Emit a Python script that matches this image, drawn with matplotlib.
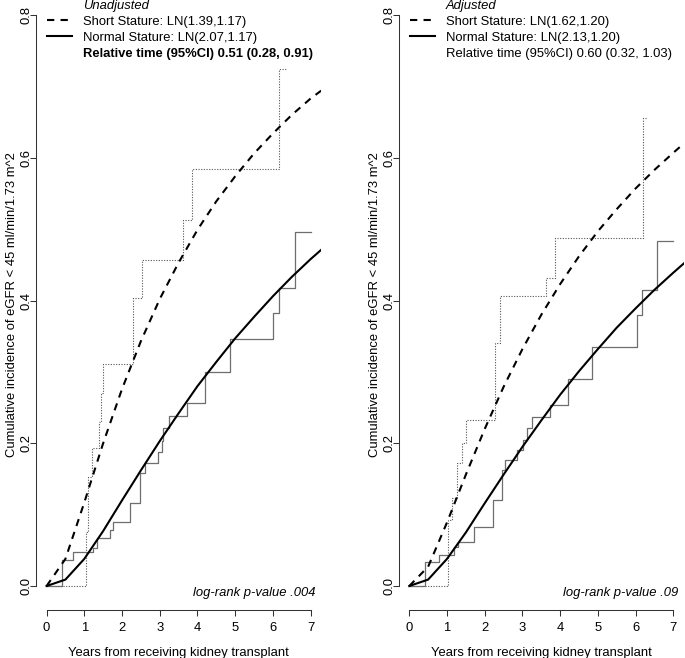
import matplotlib
matplotlib.use("Agg")
import matplotlib.pyplot as plt
from matplotlib.lines import Line2D

plt.rcParams['font.family'] = ['Liberation Sans', 'DejaVu Sans']
plt.rcParams['font.size'] = 9.4

# fitted lognormal curves
curve_t = [0, 0.5, 1, 1.5, 2, 2.5, 3, 3.5, 4, 4.5, 5, 5.5, 6, 6.5, 7, 7.28]
unadj_short_fit = [0, 0.038, 0.117, 0.200, 0.276, 0.343, 0.402, 0.453, 0.499,
                   0.539, 0.574, 0.606, 0.634, 0.660, 0.683, 0.694]
unadj_normal_fit = [0, 0.009, 0.038, 0.077, 0.120, 0.162, 0.203, 0.242, 0.280,
                    0.314, 0.347, 0.377, 0.406, 0.433, 0.458, 0.471]
adj_short_fit = [0, 0.027, 0.089, 0.156, 0.220, 0.279, 0.332, 0.380, 0.423,
                 0.462, 0.497, 0.528, 0.557, 0.583, 0.607, 0.620]
adj_normal_fit = [0, 0.009, 0.038, 0.075, 0.116, 0.156, 0.195, 0.232, 0.268,
                  0.301, 0.332, 0.362, 0.389, 0.415, 0.439, 0.452]

# observed cumulative incidence (step functions)
unadj_short_t = [0, 1.04, 1.10, 1.20, 1.40, 1.44, 1.50, 2.30, 2.52, 3.62, 3.85, 6.17, 6.36]
unadj_short_ci = [0, 0.076, 0.153, 0.193, 0.230, 0.270, 0.311, 0.403, 0.457, 0.513, 0.584, 0.724, 0.724]
unadj_normal_t = [0, 0.40, 0.71, 1.22, 1.33, 1.68, 1.75, 2.21, 2.47, 2.61, 2.96, 3.05, 3.09,
                  3.25, 3.71, 4.20, 4.87, 6.01, 6.17, 6.58, 7.01]
unadj_normal_ci = [0, 0.036, 0.047, 0.053, 0.067, 0.078, 0.089, 0.116, 0.158, 0.173, 0.188,
                   0.203, 0.221, 0.238, 0.257, 0.300, 0.346, 0.382, 0.418, 0.496, 0.496]

adj_short_t = [0, 1.03, 1.12, 1.26, 1.39, 1.50, 2.27, 2.40, 3.63, 3.85, 6.19, 6.30]
adj_short_ci = [0, 0.092, 0.123, 0.172, 0.200, 0.233, 0.340, 0.406, 0.431, 0.488, 0.655, 0.655]
adj_normal_t = [0, 0.42, 0.78, 1.19, 1.30, 1.72, 2.23, 2.45, 2.54, 2.85, 3.01, 3.11, 3.26,
                3.73, 4.22, 4.84, 6.03, 6.16, 6.56, 7.00]
adj_normal_ci = [0, 0.034, 0.043, 0.055, 0.062, 0.083, 0.120, 0.163, 0.177, 0.190, 0.205,
                 0.222, 0.237, 0.254, 0.290, 0.335, 0.380, 0.415, 0.483, 0.483]

panels = [
    dict(title='Unadjusted', short_lab='Short Stature: LN(1.39,1.17)',
         normal_lab='Normal Stature: LN(2.07,1.17)',
         rel='Relative time (95%CI) 0.51 (0.28, 0.91)', bold=True, p='log-rank p-value .004',
         sf=unadj_short_fit, nf=unadj_normal_fit, st=unadj_short_t, sc=unadj_short_ci,
         nt=unadj_normal_t, nc=unadj_normal_ci),
    dict(title='Adjusted', short_lab='Short Stature: LN(1.62,1.20)',
         normal_lab='Normal Stature: LN(2.13,1.20)',
         rel='Relative time (95%CI) 0.60 (0.32, 1.03)', bold=False, p='log-rank p-value .09',
         sf=adj_short_fit, nf=adj_normal_fit, st=adj_short_t, sc=adj_short_ci,
         nt=adj_normal_t, nc=adj_normal_ci),
]

W, H = 685, 658
fig = plt.figure(figsize=(W / 100, H / 100), dpi=100)
lefts = [36, 398.7]
dash = (0, (3.5, 3))

for left, p in zip(lefts, panels):
    ax = fig.add_axes([left / W, 48 / H, 285.2 / W, 610 / H])
    ax.set_xlim(-0.28, 7.28)
    ax.set_ylim(-0.0336, 0.821)

    # observed steps
    ax.plot(p['st'], p['sc'], drawstyle='steps-post', color='#555555', lw=0.8,
            linestyle=(0, (1, 1.4)))
    ax.plot(p['nt'], p['nc'], drawstyle='steps-post', color='#6e6e6e', lw=0.9)
    # fitted curves
    ax.plot(curve_t, p['sf'], color='black', lw=1.5, linestyle=dash)
    ax.plot(curve_t, p['nf'], color='black', lw=1.5)

    for s in ['top', 'right']:
        ax.spines[s].set_visible(False)
    ax.spines['left'].set_bounds(0, 0.8)
    ax.spines['bottom'].set_bounds(0, 7)
    for s in ['left', 'bottom']:
        ax.spines[s].set_color('#333333')
        ax.spines[s].set_linewidth(0.75)
    ax.set_xticks(range(8))
    ax.set_yticks([0, 0.2, 0.4, 0.6, 0.8])
    ax.set_yticklabels(['0.0', '0.2', '0.4', '0.6', '0.8'], rotation=90, va='center')
    ax.tick_params(length=4.3, width=0.75, color='#333333', labelsize=9.4)
    ax.tick_params(axis='x', pad=4.5)
    ax.tick_params(axis='y', pad=-2)
    ax.set_xlabel('Years from receiving kidney transplant', labelpad=9.5)
    ax.set_ylabel('Cumulative incidence of eGFR < 45 ml/min/1.73 m^2', labelpad=2)

    handles = [Line2D([], [], color='none'),
               Line2D([], [], color='black', lw=1.5, linestyle=dash),
               Line2D([], [], color='black', lw=1.5),
               Line2D([], [], color='none')]
    labels = [p['title'], p['short_lab'], p['normal_lab'], p['rel']]
    leg = ax.legend(handles, labels, loc='upper left', bbox_to_anchor=(0.038, 1.0),
                    frameon=False, borderpad=0, borderaxespad=0, handlelength=1.95,
                    handletextpad=0.85, labelspacing=0.29, fontsize=9.4)
    texts = leg.get_texts()
    texts[0].set_fontstyle('italic')
    if p['bold']:
        texts[3].set_fontweight('bold')

    ax.text(7.12, -0.0098, p['p'], ha='right', va='center', style='italic', fontsize=9.4)

fig.savefig('out.png', dpi=100)
